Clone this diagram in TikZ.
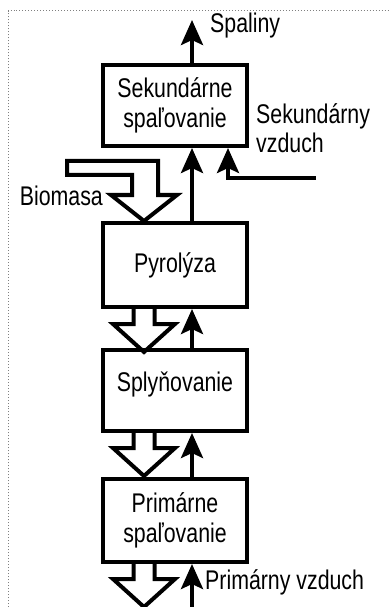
\documentclass[tikz,border=0pt]{standalone}
\usepackage{fontspec}
\setmainfont{Liberation Sans}[FakeStretch=0.79]
\usetikzlibrary{arrows.meta,calc}

\tikzset{
  stage/.style={draw, line width=4bp, minimum width=144bp, minimum height=81bp,
    inner sep=0pt, align=center, font=\fontsize{27bp}{30bp}\selectfont},
  flow/.style={line width=4bp, -{Stealth[length=25bp,width=22bp,inset=5bp]}},
  hollow/.style={line width=4bp, line join=miter},
  lbl/.style={inner sep=0pt, align=left, font=\fontsize{27bp}{29bp}\selectfont},
}
% hollow arrow below a stage
\newcommand\hollowdown[1]{%
  \draw[hollow] ($(#1.south)+(-41.5,0)$) -- ++(0,15) -- ++(-20.5,0)
    -- ++(31,28) -- ++(31,-28) -- ++(-20.5,0) -- ++(0,-15);}

\begin{document}
\begin{tikzpicture}[x=1bp,y=-1bp]
  \useasboundingbox (0,0) rectangle (388,607);
  \draw[gray, dotted, line width=1bp] (8,607) -- (8,11) -- (388,11);

  \node[stage] (sek) at (175,105.5) {Sekundárne\\spaľovanie};
  \node[stage, minimum height=84bp] (pyr) at (175,265) {Pyrolýza};
  \node[stage, text depth=17bp] (spl) at (175,390.5) {Splyňovanie};
  \node[stage, minimum height=83bp] (pri) at (175,520.5) {Primárne\\spaľovanie};

  % solid material
  \coordinate (bio) at ($(pyr.north)+(-31,0)$);
  \draw[hollow] (bio) -- ++(-33,-26) -- ++(21,0) -- ++(0,-20) -- ++(-65,0)
    -- ++(0,-14) -- ++(91,0) -- ++(0,34) -- ++(19,0) -- cycle;
  \hollowdown{pyr}
  \hollowdown{spl}
  \hollowdown{pri}

  % gases
  \coordinate (gas) at (192,20);
  \coordinate (air1) at (192,607);
  \coordinate (air2) at (316,178);
  \draw[flow] (sek.north -| gas) -- (gas);
  \draw[flow] (pyr.north -| gas) -- (sek.south -| gas);
  \draw[flow] (spl.north -| gas) -- (pyr.south -| gas);
  \draw[flow] (pri.north -| gas) -- (spl.south -| gas);
  \draw[flow] (air1) -- (pri.south -| air1);
  \draw[flow] (air2) -| ($(sek.south)+(53,0)$);

  \node[lbl, anchor=base west] (spaliny) at (210,33) {Spaliny};
  \node[lbl, anchor=base east] (biomasa) at (103,205) {Biomasa};
  \node[lbl, anchor=base west] (sekvzd) at (256,153) {Sekundárny\\vzduch};
  \node[lbl, anchor=base west] (privzd) at (205,589) {Primárny vzduch};
\end{tikzpicture}
\end{document}
